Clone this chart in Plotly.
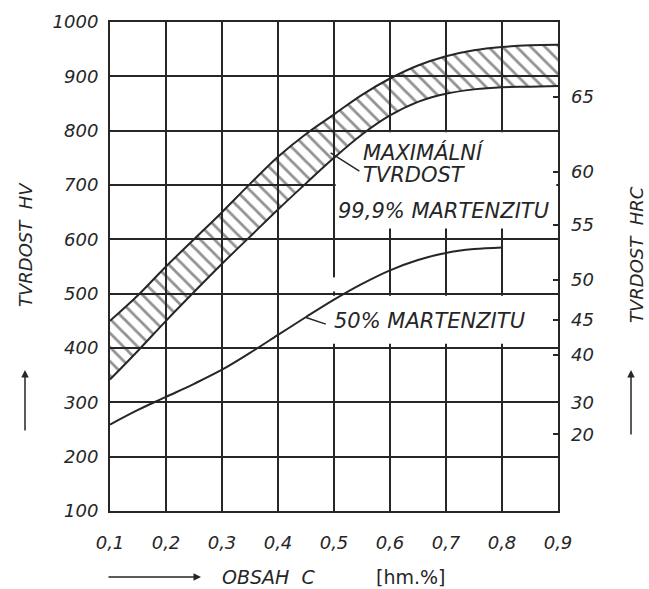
import plotly.graph_objects as go

# ---- data ----
carbon = [0.1, 0.15, 0.2, 0.25, 0.3, 0.35, 0.4, 0.45, 0.5, 0.55, 0.6, 0.65, 0.7, 0.75, 0.8, 0.85, 0.9]
hv_max_upper = [450, 497, 550, 600, 650, 702, 752, 794, 830, 866, 896, 920, 937, 948, 954, 957, 958]
hv_max_lower = [342, 395, 450, 503, 555, 605, 655, 703, 750, 793, 828, 853, 868, 876, 880, 881, 882]

carbon_50 = [0.1, 0.15, 0.2, 0.25, 0.3, 0.35, 0.4, 0.45, 0.5, 0.55, 0.6, 0.65, 0.7, 0.75, 0.8]
hv_50 = [259, 286, 310, 334, 360, 391, 424, 457, 489, 518, 543, 562, 575, 582, 585]

x_ticks = [0.1, 0.2, 0.3, 0.4, 0.5, 0.6, 0.7, 0.8, 0.9]
x_tick_labels = ["0,1", "0,2", "0,3", "0,4", "0,5", "0,6", "0,7", "0,8", "0,9"]
hv_ticks = [100, 200, 300, 400, 500, 600, 700, 800, 900, 1000]
hv_tick_labels = ["100", "200", "300", "400", "500", "600", "700", "800", "900", "1000"]
hrc_labels = ["65", "60", "55", "50", "45", "40", "30", "20"]
hrc_hv_pos = [862, 724, 627, 526, 452, 388, 300, 241]

# ---- layout constants (page pixels) ----
W, H = 649, 589
PX0, PX1, PY0, PY1 = 110, 558, 22, 511   # plot area in pixels
INK = "#262626"
FONT = "DejaVu Sans"


def px(xp):
    return (xp - PX0) / (PX1 - PX0)


def py(yp):
    return (PY1 - yp) / (PY1 - PY0)


fig = go.Figure()

# 99.9 % martensite band
fig.add_trace(go.Scatter(x=carbon, y=hv_max_lower, mode="lines",
                         line=dict(color=INK, width=2, shape="spline"),
                         showlegend=False, hoverinfo="skip"))
fig.add_trace(go.Scatter(x=carbon, y=hv_max_upper, mode="lines",
                         line=dict(color=INK, width=2, shape="spline"),
                         fill="tonexty", fillcolor="rgba(0,0,0,0)",
                         fillpattern=dict(shape="\\", size=10, solidity=0.28,
                                          fgcolor=INK, bgcolor="rgba(0,0,0,0)",
                                          fillmode="overlay"),
                         showlegend=False, hoverinfo="skip"))
# 50 % martensite
fig.add_trace(go.Scatter(x=carbon_50, y=hv_50, mode="lines",
                         line=dict(color=INK, width=2, shape="spline"),
                         showlegend=False, hoverinfo="skip"))
# invisible trace for the HRC axis
fig.add_trace(go.Scatter(x=[carbon[0]], y=[hv_ticks[0]], yaxis="y2", mode="markers",
                         marker=dict(opacity=0), showlegend=False, hoverinfo="skip"))

# white masks that break the grid where the labels sit
masks = [
    dict(x0=0.503, x1=0.897, y0=620, y1=797),
    dict(x0=0.494, x1=0.897, y0=408, y1=496),
    dict(x0=0.494, x1=0.506, y0=504, y1=530),
]
for m in masks:
    fig.add_shape(type="rect", xref="x", yref="y", layer="between",
                  fillcolor="white", line=dict(width=0), **m)

tick_font = dict(family=FONT, size=18, color=INK, style="italic")
fig.update_layout(
    width=W, height=H,
    margin=dict(l=PX0, r=W - PX1, t=PY0, b=H - PY1),
    paper_bgcolor="white", plot_bgcolor="white",
    xaxis=dict(range=[0.1, 0.9], tickvals=x_ticks, ticktext=x_tick_labels,
               showgrid=True, gridcolor=INK, gridwidth=1.5,
               showline=True, linecolor=INK, linewidth=2, mirror=True,
               ticks="", tickfont=tick_font, ticklabelstandoff=14, zeroline=False),
    yaxis=dict(range=[100, 1000], tickvals=hv_ticks, ticktext=hv_tick_labels,
               showgrid=True, gridcolor=INK, gridwidth=1.5,
               showline=True, linecolor=INK, linewidth=2, mirror=True,
               ticks="", tickfont=tick_font, ticklabelstandoff=6, zeroline=False),
    yaxis2=dict(range=[100, 1000], overlaying="y", side="right",
                tickvals=hrc_hv_pos, ticktext=hrc_labels,
                showgrid=False, zeroline=False, showline=False,
                ticks="inside", ticklen=5, tickwidth=1.5, tickcolor=INK,
                tickfont=tick_font, ticklabelstandoff=12),
)

ann_font = dict(family=FONT, size=21, color=INK, style="italic")
annotations = [
    dict(x=0.548, y=759, text="MAXIMÁLNÍ"),
    dict(x=0.548, y=719, text="TVRDOST"),
    dict(x=0.503, y=652, text="99,9% MARTENZITU"),
    dict(x=0.497, y=449, text="50% MARTENZITU"),
]
for a in annotations:
    fig.add_annotation(xref="x", yref="y", showarrow=False, xanchor="left",
                       yanchor="middle", font=ann_font, **a)

# leader lines
for tip, tail in [((0.494, 759), (0.548, 724)), ((0.45, 456), (0.488, 443))]:
    fig.add_annotation(xref="x", yref="y", x=tip[0], y=tip[1],
                       axref="x", ayref="y", ax=tail[0], ay=tail[1],
                       text="", showarrow=True, arrowhead=0, arrowwidth=1.5,
                       arrowcolor=INK)

title_font = dict(family=FONT, size=18, color=INK, style="italic")
titles = [
    dict(x=px(25), y=py(245), text="TVRDOST  HV", textangle=-90, font=title_font),
    dict(x=px(637), y=py(255), text="TVRDOST  HRC", textangle=-90, font=title_font),
    dict(x=px(268), y=py(577), text="OBSAH  C", font=dict(family=FONT, size=19, color=INK, style="italic")),
    dict(x=px(410), y=py(577), text="[hm.%]", font=dict(family=FONT, size=19, color=INK)),
]
for t in titles:
    fig.add_annotation(xref="paper", yref="paper", showarrow=False,
                       xanchor="center", yanchor="middle", **t)

# arrows beside the titles
for (tx, ty), (dx, dy) in [((25, 370), (0, 62)), ((631, 370), (0, 66)), ((201, 577), (-94, 0))]:
    fig.add_annotation(xref="paper", yref="paper", x=px(tx), y=py(ty),
                       ax=dx, ay=dy, text="", showarrow=True,
                       arrowhead=2, arrowsize=1, arrowwidth=1.5, arrowcolor=INK)

fig.write_html("out.html",
               config={"displayModeBar": False},
               post_script="document.body.style.margin='0px';"
                           "document.body.style.overflow='hidden';")
